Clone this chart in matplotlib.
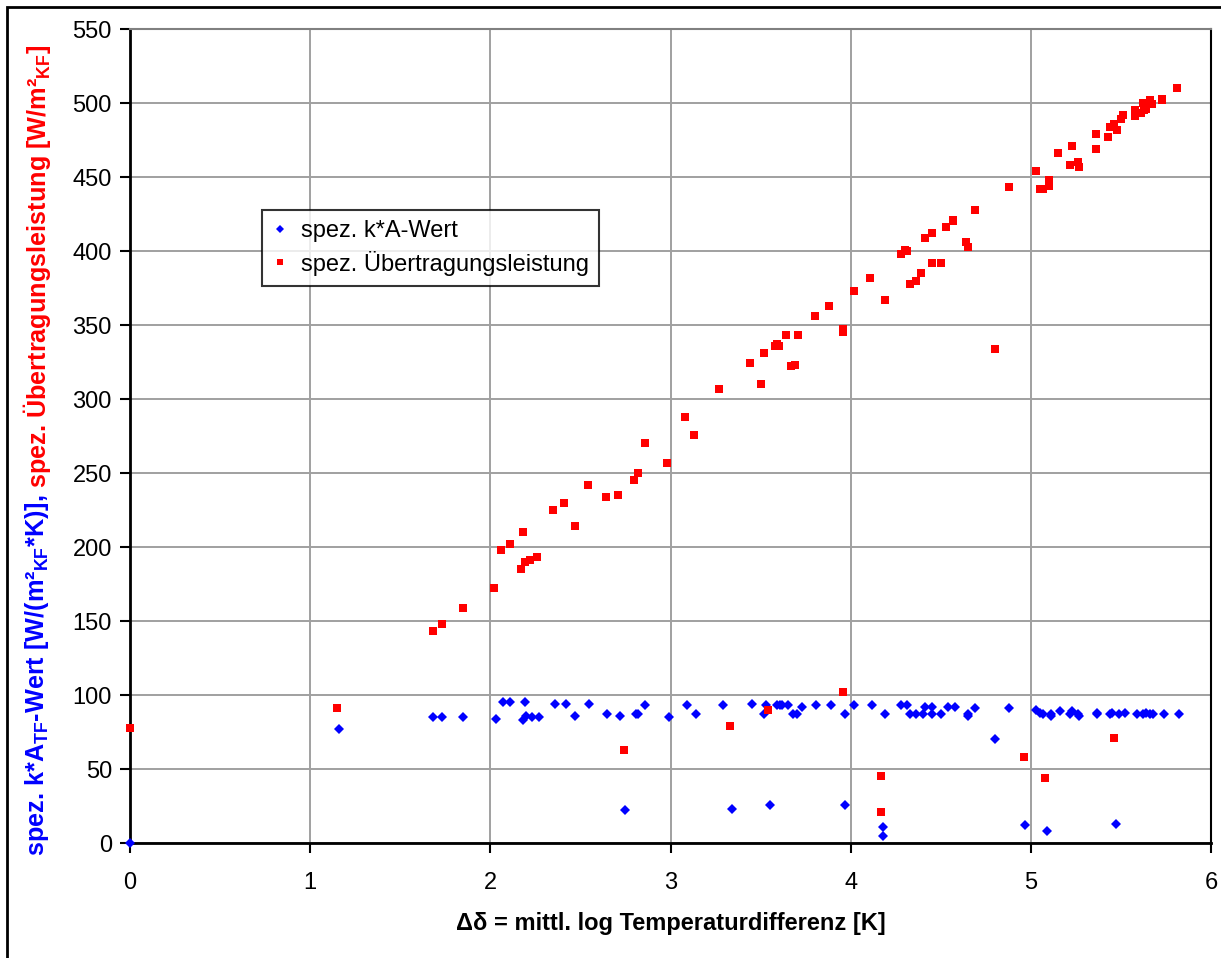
import matplotlib
matplotlib.use('Agg')
import matplotlib.pyplot as plt
from matplotlib import font_manager
from matplotlib.patches import Rectangle

names = {f.name for f in font_manager.fontManager.ttflist}
narrow = 'Liberation Sans Narrow' if 'Liberation Sans Narrow' in names else 'Liberation Sans'

plt.rcParams['font.family'] = ['Liberation Sans', 'DejaVu Sans']
plt.rcParams['mathtext.fontset'] = 'custom'
plt.rcParams['mathtext.rm'] = narrow + ':bold'
plt.rcParams['mathtext.bf'] = narrow + ':bold'

# spez. k*A-Wert (blau)
dt_k = [0.00, 1.16, 1.68, 1.73, 1.85, 2.03, 2.07, 2.11, 2.19, 2.18, 2.20, 2.23, 2.27,
        2.36, 2.42, 2.47, 2.55, 2.65, 2.72, 2.75, 2.81, 2.82, 2.86, 2.99, 3.09, 3.14,
        3.29, 3.34, 3.45, 3.52, 3.53, 3.55, 3.59, 3.61, 3.62, 3.65, 3.68, 3.70, 3.73,
        3.81, 3.89, 3.97, 3.97, 4.02, 4.12, 4.18, 4.18, 4.19, 4.28, 4.31, 4.33, 4.36,
        4.40, 4.41, 4.45, 4.45, 4.50, 4.54, 4.58, 4.65, 4.65, 4.69, 4.80, 4.88, 4.97,
        5.03, 5.05, 5.07, 5.09, 5.11, 5.11, 5.16, 5.22, 5.23, 5.26, 5.27, 5.37, 5.37,
        5.44, 5.45, 5.47, 5.49, 5.52, 5.59, 5.62, 5.64, 5.66, 5.68, 5.74, 5.82]
k_wert = [0, 77, 85, 85, 85, 84, 95, 95, 95, 83, 86, 85, 85,
          94, 94, 86, 94, 87, 86, 22, 87, 87, 93, 85, 93, 87,
          93, 23, 94, 87, 93, 26, 93, 93, 93, 93, 87, 87, 92,
          93, 93, 87, 26, 93, 93, 11, 5, 87, 93, 93, 87, 87,
          87, 92, 92, 87, 87, 92, 92, 87, 86, 91, 70, 91, 12,
          90, 88, 87, 8, 87, 86, 89, 87, 89, 87, 86, 88, 87,
          87, 88, 13, 87, 88, 87, 87, 88, 87, 87, 87, 87]

# spez. Übertragungsleistung (rot)
dt_q = [0.00, 1.15, 1.68, 1.73, 1.85, 2.02, 2.06, 2.11, 2.17, 2.19, 2.22, 2.26, 2.18,
        2.35, 2.41, 2.47, 2.54, 2.64, 2.71, 2.74, 2.80, 2.82, 2.86, 2.98, 3.08, 3.13,
        3.27, 3.33, 3.44, 3.50, 3.52, 3.54, 3.58, 3.59, 3.60, 3.64, 3.67, 3.69, 3.71,
        3.80, 3.88, 3.96, 3.96, 3.96, 4.02, 4.11, 4.17, 4.17, 4.19, 4.28, 4.30, 4.31,
        4.33, 4.36, 4.39, 4.41, 4.45, 4.45, 4.50, 4.53, 4.57, 4.57, 4.64, 4.65, 4.69,
        4.80, 4.88, 4.96, 5.03, 5.05, 5.07, 5.08, 5.10, 5.10, 5.15, 5.22, 5.23, 5.26,
        5.27, 5.36, 5.36, 5.43, 5.44, 5.46, 5.46, 5.48, 5.50, 5.51, 5.58, 5.58, 5.61,
        5.62, 5.63, 5.64, 5.65, 5.66, 5.67, 5.73, 5.73, 5.81]
q_leistung = [78, 91, 143, 148, 159, 172, 198, 202, 185, 190, 191, 193, 210,
              225, 230, 214, 242, 234, 235, 63, 245, 250, 270, 257, 288, 276,
              307, 79, 324, 310, 331, 90, 336, 337, 336, 343, 322, 323, 343,
              356, 363, 347, 345, 102, 373, 382, 45, 21, 367, 398, 401, 400,
              378, 380, 385, 409, 392, 412, 392, 416, 421, 420, 406, 403, 428,
              334, 443, 58, 454, 442, 442, 44, 444, 448, 466, 458, 471, 460,
              457, 479, 469, 477, 484, 486, 71, 482, 489, 492, 491, 495, 493,
              500, 495, 496, 500, 502, 499, 503, 502, 510]

W, H = 1221, 958
fig = plt.figure(figsize=(W / 100, H / 100), dpi=100)
ax = fig.add_axes([130 / W, (H - 843) / H, (1211 - 130) / W, (843 - 29) / H])

ax.plot(dt_k, k_wert, 'D', color='#0000ff', ms=5, mew=0, label='spez. k*A-Wert',
        clip_on=False, zorder=4)
ax.plot(dt_q, q_leistung, 's', color='#ff0000', ms=5.5, mew=0,
        label='spez. Übertragungsleistung', clip_on=False, zorder=4)

ax.set_xlim(0, 6)
ax.set_ylim(0, 550)
ax.set_xticks(range(0, 7))
ax.set_yticks(range(0, 551, 50))
ax.grid(True, color='#a0a0a0', lw=1.4)
ax.set_axisbelow(True)
ax.tick_params(labelsize=17, length=7, width=1.5, direction='out')
ax.tick_params(axis='x', pad=14)
ax.tick_params(axis='y', pad=6)

for s in ['left', 'bottom']:
    ax.spines[s].set_linewidth(2)
    ax.spines[s].set_color('black')
ax.spines['right'].set_color('black')
ax.spines['right'].set_linewidth(1.5)
ax.spines['top'].set_color('#808080')
ax.spines['top'].set_linewidth(1.5)

ax.set_xlabel('Δδ = mittl. log Temperaturdifferenz [K]', fontsize=17, fontweight='bold',
              labelpad=13)

leg = ax.legend(loc='upper left', bbox_to_anchor=(0.122, 0.778), borderaxespad=0,
                fontsize=17, frameon=True, fancybox=False, handlelength=0.6,
                handletextpad=0.6, borderpad=0.45, labelspacing=0.35, markerscale=0.85)
leg.get_frame().set_edgecolor('black')
leg.get_frame().set_linewidth(1.5)

# zweifarbige y-Achsenbeschriftung
ylab_size = 18.2
t1 = fig.text(37 / W, (H - 856) / H,
              r'spez. k*A$_{\mathbf{TF}}$-Wert [W/(m²$_{\mathbf{KF}}$*K)],',
              color='#0000ff', rotation=90, rotation_mode='anchor', ha='left',
              va='center', fontsize=ylab_size, fontweight='bold', family=[narrow, 'DejaVu Sans'])
fig.canvas.draw()
bb = t1.get_window_extent(fig.canvas.get_renderer())
fig.text(37 / W, (bb.y1 + 6) / H,
         r'spez. Übertragungsleistung [W/m²$_{\mathbf{KF}}$]',
         color='#ff0000', rotation=90, rotation_mode='anchor', ha='left',
         va='center', fontsize=ylab_size, fontweight='bold', family=[narrow, 'DejaVu Sans'])

# Rahmen um das Diagramm
fig.patches.append(Rectangle((7 / W, -0.01), 1.05, (H - 7) / H + 0.01,
                             transform=fig.transFigure, fill=False, ec='black', lw=2))

fig.savefig('out.png', dpi=100)
